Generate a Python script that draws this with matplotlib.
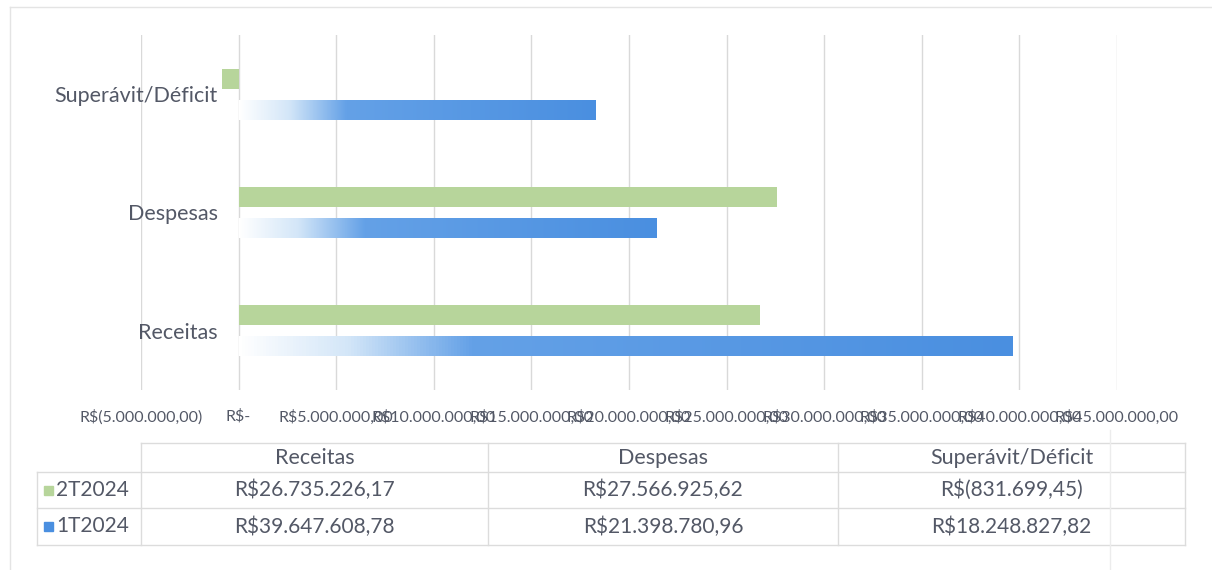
import numpy as np
import matplotlib.pyplot as plt
from matplotlib.colors import LinearSegmentedColormap
from matplotlib.lines import Line2D
from matplotlib.ticker import FuncFormatter, MultipleLocator

plt.rcParams['font.family'] = ['Lato', 'DejaVu Sans']

categorias = ["Receitas", "Despesas", "Superávit/Déficit"]
series = ["2T2024", "1T2024"]
valores_2t = [26735226.17, 27566925.62, -831699.45]
valores_1t = [39647608.78, 21398780.96, 18248827.82]

COR_TEXTO = "#535866"
COR_GRADE = "#d9d9d9"
COR_VERDE = "#b7d59b"
COR_AZUL = "#4a8fe0"


def brl(v):
    # formato contábil: R$1.234,56 / R$(1.234,56) / R$-
    if v == 0:
        return "R$-"
    s = f"{abs(v):,.2f}".replace(",", "X").replace(".", ",").replace("X", ".")
    return f"R$({s})" if v < 0 else f"R${s}"


W, H = 1212, 570
fig = plt.figure(figsize=(W / 100, H / 100), dpi=100)
ax = fig.add_axes([141 / W, 1 - 390 / H, (1117 - 141) / W, (390 - 35) / H])

y = np.arange(len(categorias))
h = 0.17
off = 0.131

ax.barh(y + off, valores_2t, height=h, color=COR_VERDE, zorder=2)
barras_azuis = ax.barh(y - off, valores_1t, height=h, color="none", zorder=2)

# degradê branco -> azul no início de cada barra azul
grad = LinearSegmentedColormap.from_list(
    "grad", [(0, "#ffffff"), (0.14, "#d3e6f8"), (0.3, "#64a1e7"), (1, COR_AZUL)])
ramp = np.linspace(0, 1, 256).reshape(1, -1)
for b in barras_azuis:
    x0, y0 = b.get_x(), b.get_y()
    im = ax.imshow(ramp, cmap=grad, aspect="auto", zorder=3,
                   extent=(x0, x0 + b.get_width(), y0, y0 + b.get_height()))
    im.set_clip_path(b)

ax.set_xlim(-5e6, 45e6)
ax.set_ylim(-0.5, 2.5)
ax.xaxis.set_major_locator(MultipleLocator(5e6))
ax.xaxis.set_major_formatter(FuncFormatter(lambda v, p: brl(v)))
ax.grid(axis="x", color=COR_GRADE, linewidth=1, zorder=0)
ax.set_axisbelow(True)

ax.set_yticks(y, categorias)
for s in ax.spines.values():
    s.set_visible(False)
ax.spines["left"].set_position(("data", 0))
ax.tick_params(axis="y", length=0, pad=15, labelsize=15.5, labelcolor=COR_TEXTO)
ax.tick_params(axis="x", length=0, pad=14, labelsize=11.5, labelcolor=COR_TEXTO)

# tabela de dados abaixo do gráfico
def fx(px):
    return px / W


def fy(py):
    return 1 - py / H


def linha(x0, x1, y0, y1, cor="#dcdcdc"):
    fig.add_artist(Line2D([fx(x0), fx(x1)], [fy(y0), fy(y1)], color=cor, lw=1))


col_x = [141, 488, 838, 1185]
row_y = [443, 472, 508, 545]
linha(141, 1185, row_y[0], row_y[0])
for ry in row_y[1:]:
    linha(37, 1185, ry, ry)
linha(37, 37, row_y[1], row_y[3])
for cx in col_x:
    linha(cx, cx, row_y[0], row_y[3])

for i, cat in enumerate(categorias):
    xc = (col_x[i] + col_x[i + 1]) / 2
    fig.text(fx(xc), fy((row_y[0] + row_y[1]) / 2), cat, ha="center", va="center",
             fontsize=15.5, color=COR_TEXTO)
    for j, vals in enumerate([valores_2t, valores_1t]):
        fig.text(fx(xc), fy((row_y[j + 1] + row_y[j + 2]) / 2), brl(vals[i]),
                 ha="center", va="center", fontsize=15, color=COR_TEXTO)

for j, (nome, cor) in enumerate(zip(series, [COR_VERDE, COR_AZUL])):
    yc = (row_y[j + 1] + row_y[j + 2]) / 2
    fig.add_artist(plt.Rectangle((fx(44), fy(yc + 4.5)), 9 / W, 9 / H,
                                 transform=fig.transFigure, color=cor))
    fig.text(fx(56), fy(yc), nome, ha="left", va="center", fontsize=15, color=COR_TEXTO)

# moldura externa
linha(10, 10, 7, 570, "#e4e4e4")
linha(10, 1212, 7, 7, "#e4e4e4")
linha(1110, 1110, 430, 570, "#ececec")

fig.savefig("out.png", dpi=100, facecolor="white")
